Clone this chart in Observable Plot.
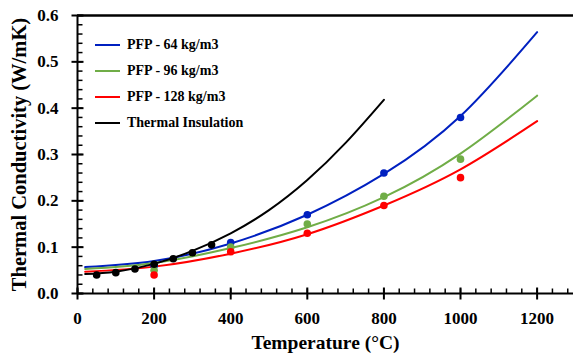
<!DOCTYPE html>
<html>
<head>
<meta charset="utf-8">
<script src="https://cdn.jsdelivr.net/npm/d3@7"></script>
<script src="https://cdn.jsdelivr.net/npm/@observablehq/plot@0.6"></script>
<style>
  body { margin: 0; background: #fff; }
  #chart { position: relative; width: 573px; height: 363px; font-family: "Liberation Serif", serif; font-weight: bold; }
  #chart svg { font-family: "Liberation Serif", serif; font-weight: bold; }
  #chart svg [aria-label="x-axis label"] text { font-size: 19.5px; }
  #chart svg [aria-label="y-axis label"] text { font-size: 20.5px; }
  .legend { position: absolute; left: 95px; top: 32px; }
  .legend .row { display: flex; align-items: center; height: 26px; font-size: 14px; color: #000; }
  .legend .swatch { width: 25px; height: 2px; margin-right: 7px; }
</style>
</head>
<body>
<div id="chart"></div>
<script>
// Measured thermal conductivity (W/mK) of PFP blankets at three densities
const pfpTemps = [200, 400, 600, 800, 1000];
const pfp64 = [0.060, 0.110, 0.170, 0.260, 0.380];
const pfp96 = [0.050, 0.100, 0.150, 0.210, 0.290];
const pfp128 = [0.040, 0.090, 0.130, 0.190, 0.250];

// Reference thermal insulation measurements
const insulTemps = [50, 100, 150, 200, 250, 300, 350];
const insul = [0.040, 0.045, 0.053, 0.063, 0.075, 0.088, 0.105];

// Trend curves for each series
const fitTemps = [20, 200, 400, 600, 800, 1000, 1200];
const fit64 = [0.057, 0.070, 0.108, 0.170, 0.258, 0.383, 0.564];
const fit96 = [0.053, 0.066, 0.098, 0.143, 0.208, 0.302, 0.427];
const fit128 = [0.047, 0.058, 0.086, 0.128, 0.190, 0.268, 0.372];
const insulFitTemps = [20, 100, 200, 300, 400, 500, 600, 700, 800];
const insulFit = [0.042, 0.047, 0.064, 0.092, 0.130, 0.180, 0.245, 0.325, 0.418];

const seriesNames = ["PFP - 64 kg/m3", "PFP - 96 kg/m3", "PFP - 128 kg/m3", "Thermal Insulation"];
const seriesColors = ["#0020c0", "#70ad47", "#ff0000", "#000000"];

const xTicks = [0, 200, 400, 600, 800, 1000, 1200];
const yTicks = [0, 0.1, 0.2, 0.3, 0.4, 0.5, 0.6];
const xMinorTicks = d3.range(0, 1295, 40);
const yMinorTicks = d3.range(0, 0.601, 0.02);

const toRows = (xs, ys, s) => xs.map((x, i) => ({x, y: ys[i], s}));
const points = [
  ...toRows(pfpTemps, pfp64, seriesNames[0]),
  ...toRows(pfpTemps, pfp96, seriesNames[1]),
  ...toRows(pfpTemps, pfp128, seriesNames[2]),
  ...toRows(insulTemps, insul, seriesNames[3])
];
const curves = [
  ...toRows(fitTemps, fit64, seriesNames[0]),
  ...toRows(fitTemps, fit96, seriesNames[1]),
  ...toRows(fitTemps, fit128, seriesNames[2]),
  ...toRows(insulFitTemps, insulFit, seriesNames[3])
];

const W = 573, H = 363, mL = 77, mR = 0, mT = 15, mB = 70;
const frameW = W - mL - mR, frameH = H - mT - mB;
const xDomain = [0, 1295], yDomain = [0, 0.6];
// tick lengths in pixels, expressed in data units for each axis
const xPerPx = (xDomain[1] - xDomain[0]) / frameW;
const yPerPx = (yDomain[1] - yDomain[0]) / frameH;
const minorLen = 5, majorLen = 6;

const chart = Plot.plot({
  width: W,
  height: H,
  marginLeft: mL,
  marginRight: mR,
  marginTop: mT,
  marginBottom: mB,
  style: {fontSize: "17px", fontFamily: "Liberation Serif, serif", fontWeight: "bold", background: "#fff"},
  x: {domain: xDomain},
  y: {domain: yDomain},
  color: {domain: seriesNames, range: seriesColors},
  marks: [
    // minor ticks, pointing into the plot
    Plot.link(xMinorTicks, {x1: d => d, x2: d => d, y1: 0, y2: minorLen * yPerPx, stroke: "#000", strokeWidth: 1.5}),
    Plot.link(yMinorTicks, {y1: d => d, y2: d => d, x1: 0, x2: minorLen * xPerPx, stroke: "#000", strokeWidth: 1.5}),
    // major ticks crossing the axes
    Plot.link(xTicks, {x1: d => d, x2: d => d, y1: -majorLen * yPerPx, y2: majorLen * yPerPx, stroke: "#000", strokeWidth: 2}),
    Plot.link(yTicks, {y1: d => d, y2: d => d, x1: -majorLen * xPerPx, x2: majorLen * xPerPx, stroke: "#000", strokeWidth: 2}),
    // tick labels and titles
    Plot.axisX({ticks: xTicks, tickSize: 0, tickPadding: 18, tickFormat: d3.format("d"),
      label: "Temperature (°C)", labelAnchor: "center", labelArrow: "none", labelOffset: 55}),
    Plot.axisY({ticks: yTicks, tickSize: 0, tickPadding: 19, tickFormat: d3.format(".1f"),
      label: "Thermal Conductivity (W/mK)", labelAnchor: "center", labelArrow: "none", labelOffset: 66}),
    // axis lines and top border
    Plot.ruleX([0], {y1: 0, y2: 0.6, strokeWidth: 2}),
    Plot.ruleY([0], {strokeWidth: 2}),
    Plot.ruleY([0.6], {strokeWidth: 2.5}),
    // trend curves and measurements
    Plot.line(curves, {x: "x", y: "y", z: "s", stroke: "s", strokeWidth: 2, curve: "natural"}),
    Plot.dot(points, {x: "x", y: "y", fill: "s", r: 3.8})
  ]
});
const root = document.getElementById("chart");
root.appendChild(chart);

// Legend placed inside the plotting area
const legend = document.createElement("div");
legend.className = "legend";
seriesNames.forEach((name, i) => {
  const row = document.createElement("div");
  row.className = "row";
  const sw = document.createElement("div");
  sw.className = "swatch";
  sw.style.background = seriesColors[i];
  const label = document.createElement("span");
  label.textContent = name;
  row.appendChild(sw);
  row.appendChild(label);
  legend.appendChild(row);
});
root.appendChild(legend);
</script>
</body>
</html>
